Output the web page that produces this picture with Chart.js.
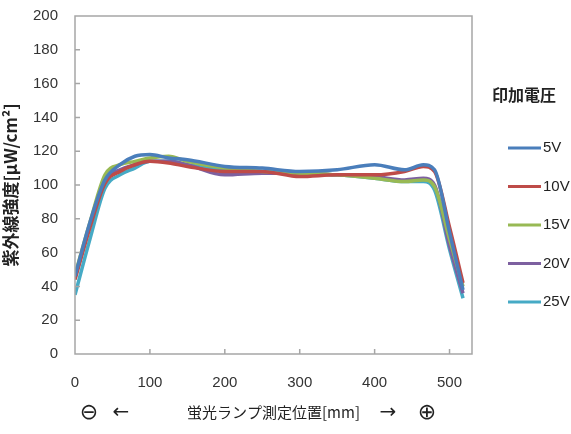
<!DOCTYPE html>
<html>
<head>
<meta charset="utf-8">
<script src="https://cdn.jsdelivr.net/npm/chart.js@4.4.0/dist/chart.umd.min.js"></script>
<style>
  html, body { margin: 0; padding: 0; background: #fff; }
  #wrap { width: 571px; height: 434px; }
</style>
</head>
<body>
<div id="wrap"><canvas id="myChart" width="571" height="434"></canvas></div>
<script>
// 測定位置 [mm]
var positions = [0, 20, 40, 60, 80, 100, 125, 150, 200, 250, 300, 350, 400, 440, 465, 480, 500, 518];
var seriesLabels = ["5V", "10V", "15V", "20V", "25V"];
var v5  = [46, 78, 103, 112, 117, 118, 116, 115, 111, 110, 108, 109, 112, 109, 112, 109, 72, 38];
var v10 = [44, 75, 101, 108, 112, 114, 113, 111, 108, 108, 105, 106, 106, 108, 111, 108, 75, 42];
var v15 = [47, 78, 106, 112, 114, 116, 117, 114, 110, 108, 107, 106, 104, 102, 103, 99, 68, 40];
var v20 = [45, 76, 103, 109, 112, 114, 114, 112, 106, 107, 107, 106, 105, 103, 104, 100, 64, 36];
var v25 = [35, 68, 98, 106, 110, 114, 114, 112, 109, 108, 107, 106, 104, 102, 102, 97, 62, 33];
var xTicks = [0, 100, 200, 300, 400, 500];
var colors = ["#4a7ebb", "#be4b48", "#98b954", "#7d60a0", "#46aac5"];

var allValues = [v5, v10, v15, v20, v25];
var numFont = "'Liberation Sans Narrow', 'Liberation Sans', sans-serif";
var jpFont = "'Noto Sans CJK JP', sans-serif";

function toPoints(vals) {
  return positions.map(function (p, i) { return { x: p, y: vals[i] }; });
}

var datasets = seriesLabels.map(function (lab, i) {
  return {
    label: lab,
    data: toPoints(allValues[i]),
    borderColor: colors[i],
    backgroundColor: colors[i],
    borderWidth: 3.5,
    pointRadius: 0,
    cubicInterpolationMode: "monotone",
    fill: false
  };
});

// 枠・内向き目盛・凡例・矢印
var decorations = {
  id: "decorations",
  afterDraw: function (chart) {
    var c = chart.ctx;
    var a = chart.chartArea;
    var xs = chart.scales.x, ys = chart.scales.y;
    c.save();
    c.strokeStyle = "#a6a6a6";
    c.lineWidth = 1.5;
    c.strokeRect(a.left, a.top, a.right - a.left, a.bottom - a.top);
    c.beginPath();
    for (var t = 100; t <= 500; t += 100) {
      var px = xs.getPixelForValue(t);
      c.moveTo(px, a.bottom); c.lineTo(px, a.bottom - 5);
    }
    for (var v = 20; v < 200; v += 20) {
      var py = ys.getPixelForValue(v);
      c.moveTo(a.left, py); c.lineTo(a.left + 5, py);
    }
    c.stroke();

    // legend
    c.fillStyle = "#222";
    c.font = "bold 16px " + jpFont;
    c.textBaseline = "middle";
    c.textAlign = "left";
    c.fillText("印加電圧", 492, 95);
    c.font = "15px " + numFont;
    chart.data.datasets.forEach(function (ds, i) {
      var y = 148 + i * 38.5;
      c.strokeStyle = ds.borderColor;
      c.lineWidth = 3;
      c.beginPath();
      c.moveTo(508, y); c.lineTo(541, y);
      c.stroke();
      c.fillStyle = "#222";
      c.fillText(ds.label, 543, y);
    });

    // ⊖ ← ... → ⊕
    c.fillStyle = "#222";
    c.font = "22px 'DejaVu Sans', sans-serif";
    c.textAlign = "center";
    c.fillText("⊖", 89, 413);
    c.fillText("⊕", 427, 413);
    c.font = "20px 'DejaVu Sans', sans-serif";
    c.fillText("←", 121, 413);
    c.fillText("→", 388, 413);
    c.restore();
  }
};

var ctx = document.getElementById("myChart");
var chart = new Chart(ctx, {
  type: "line",
  data: { datasets: datasets },
  plugins: [decorations],
  options: {
    responsive: false,
    animation: false,
    layout: { padding: { top: 16, right: 99, left: 0, bottom: 13 } },
    plugins: {
      legend: { display: false },
      tooltip: { enabled: false }
    },
    scales: {
      x: {
        type: "linear",
        min: 0,
        max: 530,
        grid: { display: false, drawTicks: false },
        border: { display: false },
        afterBuildTicks: function (s) {
          s.ticks = xTicks.map(function (v) { return { value: v }; });
        },
        ticks: {
          autoSkip: false,
          maxRotation: 0,
          padding: 20,
          color: "#333",
          font: { family: numFont, size: 15 }
        },
        title: {
          display: true,
          text: "蛍光ランプ測定位置[mm]",
          color: "#222",
          font: { family: jpFont, size: 15 },
          padding: { top: 6, bottom: 0 }
        },
        afterFit: function (s) { s.height = 67; }
      },
      y: {
        min: 0,
        max: 200,
        grid: { display: false, drawTicks: false },
        border: { display: false },
        ticks: {
          stepSize: 20,
          padding: 17,
          color: "#333",
          font: { family: numFont, size: 15 }
        },
        title: {
          display: true,
          text: "紫外線強度[μW/cm²]",
          color: "#222",
          font: { family: jpFont, size: 17, weight: "bold" },
          padding: { top: 0, bottom: 2 }
        },
        afterFit: function (s) {
          s.width = 75;
          s.paddingTop = 0;
          s.paddingBottom = 0;
        }
      }
    }
  }
});
</script>
</body>
</html>
